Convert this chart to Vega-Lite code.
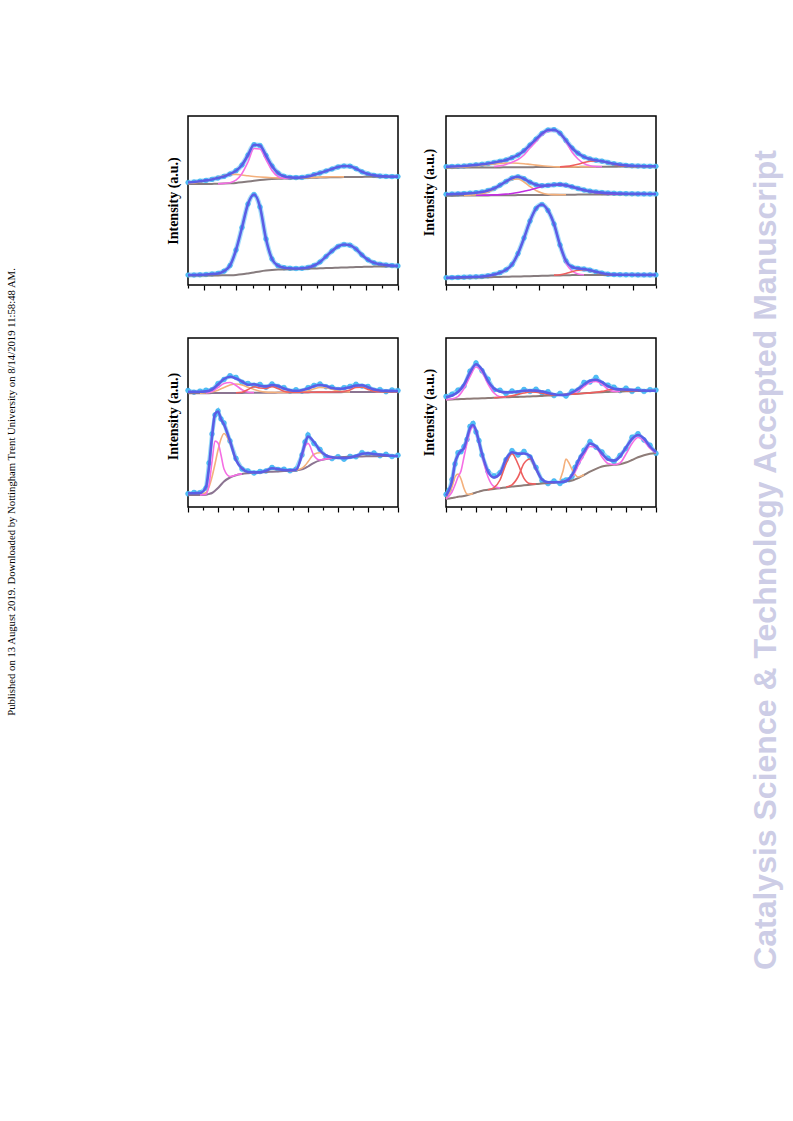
{
"$schema":"https://vega.github.io/schema/vega-lite/v6.json",
"background":"white",
"padding":{"left":5,"top":115,"right":5,"bottom":5},
"spacing":20,
"config":{
 "view":{"stroke":"black","strokeWidth":1.5},
 "axisX":{"labels":false,"domain":false,"grid":false,"tickColor":"black","tickWidth":1.2},
 "axisY":{"ticks":false,"labels":false,"domain":false,"grid":false,"titleFont":"Liberation Serif","titleFontSize":14,"titleFontWeight":"bold","titleColor":"black","titlePadding":10},
 "font":"Liberation Serif"
},
"datasets":{
"p1":[
{"s":"a","x":0,"f":102.5,"b":101,"o":101.5},
{"s":"a","x":6,"f":103,"b":101,"o":102},
{"s":"a","x":12,"f":103.8,"b":101,"o":103},
{"s":"a","x":18,"f":104.6,"b":101,"o":104.3},
{"s":"a","x":24,"f":105.6,"b":101.1,"o":105.8},
{"s":"a","x":30,"f":107,"b":101.2,"o":107.5,"m":101.3},
{"s":"a","x":36,"f":108.6,"b":101.4,"o":109.2,"m":101.6},
{"s":"a","x":42,"f":111,"b":101.7,"o":110.5,"m":102.3},
{"s":"a","x":48,"f":114.3,"b":102.1,"o":110.6,"m":104.8},
{"s":"a","x":54,"f":120,"b":102.7,"o":110,"m":111.5},
{"s":"a","x":60,"f":130,"b":103.4,"o":109.2,"m":123},
{"s":"a","x":66,"f":140.3,"b":104.2,"o":108.5,"m":136.5},
{"s":"a","x":72,"f":139.5,"b":104.9,"o":108,"m":136},
{"s":"a","x":78,"f":129.5,"b":105.5,"o":107.6,"m":125.5},
{"s":"a","x":84,"f":119,"b":105.9,"o":107.3,"m":114.5},
{"s":"a","x":90,"f":112,"b":106.2,"o":107.1,"m":108.5},
{"s":"a","x":96,"f":108.7,"b":106.4,"o":107,"m":106.7},
{"s":"a","x":102,"f":107.6,"b":106.6,"o":106.9,"m":106.6},
{"s":"a","x":108,"f":107.4,"b":106.8,"o":106.9},
{"s":"a","x":114,"f":107.6,"b":107,"o":107},
{"s":"a","x":120,"f":108.5,"b":107.1,"o":107.3},
{"s":"a","x":126,"f":110.3,"b":107.3,"o":107.6},
{"s":"a","x":132,"f":112,"b":107.4,"o":107.9},
{"s":"a","x":138,"f":114,"b":107.6,"o":108.1},
{"s":"a","x":144,"f":116,"b":107.7,"o":108.2},
{"s":"a","x":150,"f":118,"b":107.8,"o":108.2},
{"s":"a","x":156,"f":119,"b":107.9,"o":108.1},
{"s":"a","x":162,"f":118.8,"b":108},
{"s":"a","x":168,"f":116.3,"b":108.1},
{"s":"a","x":174,"f":113.2,"b":108.1},
{"s":"a","x":180,"f":111,"b":108.2},
{"s":"a","x":186,"f":109.6,"b":108.2},
{"s":"a","x":192,"f":108.9,"b":108.2},
{"s":"a","x":198,"f":108.6,"b":108.2},
{"s":"a","x":204,"f":108.4,"b":108.2},
{"s":"a","x":210,"f":108.4,"b":108.2},
{"s":"b","x":0,"f":10,"b":9.5},
{"s":"b","x":6,"f":10,"b":9.5},
{"s":"b","x":12,"f":10.2,"b":9.5},
{"s":"b","x":18,"f":10.5,"b":9.5},
{"s":"b","x":24,"f":11,"b":9.6},
{"s":"b","x":30,"f":11.6,"b":9.6},
{"s":"b","x":36,"f":13.8,"b":9.7},
{"s":"b","x":42,"f":19.5,"b":9.8},
{"s":"b","x":48,"f":35,"b":10.1},
{"s":"b","x":54,"f":57.5,"b":10.7},
{"s":"b","x":60,"f":81,"b":11.6},
{"s":"b","x":66,"f":90.5,"b":12.6},
{"s":"b","x":72,"f":78,"b":13.6},
{"s":"b","x":78,"f":46,"b":14.4},
{"s":"b","x":84,"f":26,"b":15},
{"s":"b","x":90,"f":19.3,"b":15.4},
{"s":"b","x":96,"f":17.3,"b":15.6},
{"s":"b","x":102,"f":16.7,"b":15.8},
{"s":"b","x":108,"f":16.5,"b":16},
{"s":"b","x":114,"f":16.7,"b":16.1},
{"s":"b","x":120,"f":17.5,"b":16.3},
{"s":"b","x":126,"f":19.5,"b":16.5},
{"s":"b","x":132,"f":23,"b":16.7},
{"s":"b","x":138,"f":28.5,"b":16.9},
{"s":"b","x":144,"f":34,"b":17.1},
{"s":"b","x":150,"f":38.5,"b":17.3},
{"s":"b","x":156,"f":40.5,"b":17.5},
{"s":"b","x":162,"f":39.8,"b":17.7},
{"s":"b","x":168,"f":36,"b":17.9},
{"s":"b","x":174,"f":30,"b":18.1},
{"s":"b","x":180,"f":25.2,"b":18.3},
{"s":"b","x":186,"f":22.2,"b":18.4},
{"s":"b","x":192,"f":20.7,"b":18.5},
{"s":"b","x":198,"f":19.9,"b":18.6},
{"s":"b","x":204,"f":19.4,"b":18.7},
{"s":"b","x":210,"f":19.1,"b":18.8}
],
"p2":[
{"s":"c","x":0,"f":118.3,"b":117.3,"o":117.5},
{"s":"c","x":6,"f":118.5,"b":117.3,"o":117.6},
{"s":"c","x":12,"f":118.7,"b":117.4,"o":117.8},
{"s":"c","x":18,"f":119,"b":117.4,"o":118.1},
{"s":"c","x":24,"f":119.5,"b":117.4,"o":118.6},
{"s":"c","x":30,"f":120.1,"b":117.5,"o":119.2},
{"s":"c","x":36,"f":120.7,"b":117.5,"o":119.8},
{"s":"c","x":42,"f":121.5,"b":117.6,"o":120.5},
{"s":"c","x":48,"f":122.5,"b":117.6,"o":121.1,"m":118.5},
{"s":"c","x":54,"f":123.7,"b":117.6,"o":121.6,"m":119.3},
{"s":"c","x":60,"f":125,"b":117.7,"o":121.9,"m":120.6},
{"s":"c","x":66,"f":127.3,"b":117.7,"o":122,"m":122.8},
{"s":"c","x":72,"f":130,"b":117.7,"o":121.8,"m":125.5},
{"s":"c","x":78,"f":134.3,"b":117.8,"o":121.3,"m":130},
{"s":"c","x":84,"f":140,"b":117.8,"o":120.6,"m":137},
{"s":"c","x":90,"f":145.8,"b":117.9,"o":119.9,"m":143.5},
{"s":"c","x":96,"f":151.5,"b":117.9,"o":119.2,"m":150},
{"s":"c","x":102,"f":155,"b":117.9,"o":118.7,"m":154},
{"s":"c","x":108,"f":155.3,"b":118,"o":118.3,"m":154.5},
{"s":"c","x":114,"f":151.8,"b":118,"o":118.1,"m":151,"r":118.1},
{"s":"c","x":120,"f":144.5,"b":118,"o":118.1,"m":143,"r":118.6},
{"s":"c","x":126,"f":137,"b":118.1,"o":118.1,"m":133,"r":119.4},
{"s":"c","x":132,"f":131.8,"b":118.1,"o":118.2,"m":126,"r":120.8},
{"s":"c","x":138,"f":128.2,"b":118.2,"o":118.2,"m":121.5,"r":122.5},
{"s":"c","x":144,"f":126,"b":118.2,"o":118.2,"m":119.3,"r":123.7},
{"s":"c","x":150,"f":124.8,"b":118.2,"o":118.3,"m":118.5,"r":124.1},
{"s":"c","x":156,"f":123.8,"b":118.3,"m":118.3,"r":123.6},
{"s":"c","x":162,"f":122.5,"b":118.3,"r":122.2},
{"s":"c","x":168,"f":121.2,"b":118.3,"r":120.6},
{"s":"c","x":174,"f":120.2,"b":118.4,"r":119.4},
{"s":"c","x":180,"f":119.6,"b":118.4,"r":118.8},
{"s":"c","x":186,"f":119.2,"b":118.5,"r":118.6},
{"s":"c","x":192,"f":119,"b":118.5,"r":118.5},
{"s":"c","x":198,"f":118.8,"b":118.5},
{"s":"c","x":204,"f":118.7,"b":118.6},
{"s":"c","x":210,"f":118.7,"b":118.6},
{"s":"d","x":0,"f":90.7,"b":89.3},
{"s":"d","x":6,"f":90.9,"b":89.3},
{"s":"d","x":12,"f":91.1,"b":89.4},
{"s":"d","x":18,"f":91.4,"b":89.4,"o":89.6},
{"s":"d","x":24,"f":91.8,"b":89.5,"o":89.9},
{"s":"d","x":30,"f":92.3,"b":89.5,"o":90.3,"v":89.7},
{"s":"d","x":36,"f":93,"b":89.6,"o":91.2,"v":89.8},
{"s":"d","x":42,"f":94.5,"b":89.6,"o":93,"v":89.9},
{"s":"d","x":48,"f":96.5,"b":89.7,"o":95.8,"v":90.1},
{"s":"d","x":54,"f":99.8,"b":89.7,"o":99.6,"v":90.4},
{"s":"d","x":60,"f":103.5,"b":89.8,"o":103.2,"v":90.9},
{"s":"d","x":66,"f":106.8,"b":89.8,"o":105.6,"v":91.5},
{"s":"d","x":72,"f":108.2,"b":89.9,"o":106,"v":92.5},
{"s":"d","x":78,"f":106.3,"b":89.9,"o":103,"v":93.8},
{"s":"d","x":84,"f":102.8,"b":90,"o":98.5,"v":95},
{"s":"d","x":90,"f":100.2,"b":90,"o":94.5,"v":96.8},
{"s":"d","x":96,"f":99.3,"b":90.1,"o":92,"v":98.3},
{"s":"d","x":102,"f":99.6,"b":90.1,"o":90.8,"v":99.2},
{"s":"d","x":108,"f":100.3,"b":90.2,"o":90.4,"v":99.8},
{"s":"d","x":114,"f":100.6,"b":90.2,"o":90.3,"v":99.9},
{"s":"d","x":120,"f":99.8,"b":90.3,"o":90.3,"v":99.3},
{"s":"d","x":126,"f":98.2,"b":90.3,"v":97.8},
{"s":"d","x":132,"f":96.5,"b":90.4,"v":96},
{"s":"d","x":138,"f":95,"b":90.4,"v":94.5},
{"s":"d","x":144,"f":93.8,"b":90.5,"v":93.2},
{"s":"d","x":150,"f":93,"b":90.5,"v":92.3},
{"s":"d","x":156,"f":92.4,"b":90.6,"v":91.7},
{"s":"d","x":162,"f":92,"b":90.6,"v":91.3},
{"s":"d","x":168,"f":91.7,"b":90.7,"v":91.1},
{"s":"d","x":174,"f":91.5,"b":90.7,"v":91},
{"s":"d","x":180,"f":91.3,"b":90.8,"v":91},
{"s":"d","x":186,"f":91.2,"b":90.8},
{"s":"d","x":192,"f":91.1,"b":90.9},
{"s":"d","x":198,"f":91.1,"b":90.9},
{"s":"d","x":204,"f":91,"b":91},
{"s":"d","x":210,"f":91,"b":91},
{"s":"e","x":0,"f":7.3,"b":6.7},
{"s":"e","x":6,"f":7.4,"b":6.9},
{"s":"e","x":12,"f":7.6,"b":7},
{"s":"e","x":18,"f":7.8,"b":7.2},
{"s":"e","x":24,"f":8,"b":7.3},
{"s":"e","x":30,"f":8.2,"b":7.5},
{"s":"e","x":36,"f":8.5,"b":7.6},
{"s":"e","x":42,"f":9.2,"b":7.8,"m":8.9},
{"s":"e","x":48,"f":10.5,"b":7.9,"m":10.1},
{"s":"e","x":54,"f":12.3,"b":8.1,"m":12},
{"s":"e","x":60,"f":15.2,"b":8.2,"m":15},
{"s":"e","x":66,"f":20.5,"b":8.4,"m":20.3},
{"s":"e","x":72,"f":31.5,"b":8.5,"m":31.3},
{"s":"e","x":78,"f":47,"b":8.7,"m":46.8},
{"s":"e","x":84,"f":64,"b":8.8,"m":63.8},
{"s":"e","x":90,"f":76.5,"b":9,"m":76.3},
{"s":"e","x":96,"f":80.5,"b":9.2,"m":80.2},
{"s":"e","x":102,"f":74.5,"b":9.3,"m":74.2},
{"s":"e","x":108,"f":61,"b":9.5,"m":60.5,"r":9.9},
{"s":"e","x":114,"f":40,"b":9.6,"m":39,"r":10.3},
{"s":"e","x":120,"f":24,"b":9.8,"m":22,"r":11.5},
{"s":"e","x":126,"f":18,"b":9.9,"m":14,"r":13.3},
{"s":"e","x":132,"f":16.6,"b":10,"m":11,"r":14.8},
{"s":"e","x":138,"f":16,"b":10,"m":10.2,"r":15.2},
{"s":"e","x":144,"f":14.8,"b":10,"r":14.3},
{"s":"e","x":150,"f":13.2,"b":10,"r":12.8},
{"s":"e","x":156,"f":11.8,"b":10,"r":11.5},
{"s":"e","x":162,"f":10.8,"b":10,"r":10.6},
{"s":"e","x":168,"f":10.4,"b":10,"r":10.2},
{"s":"e","x":174,"f":10.3,"b":10},
{"s":"e","x":180,"f":10.2,"b":10},
{"s":"e","x":186,"f":10.2,"b":10},
{"s":"e","x":192,"f":10.1,"b":10},
{"s":"e","x":198,"f":10.1,"b":10},
{"s":"e","x":204,"f":10.1,"b":10},
{"s":"e","x":210,"f":10.1,"b":10}
],
"p3":[
{"s":"f","x":0,"f":115.3,"e":116.5,"b":113.7},
{"s":"f","x":6,"f":115.3,"e":114.8,"b":113.7},
{"s":"f","x":12,"f":115.3,"e":115.9,"b":113.8,"o":113.9},
{"s":"f","x":18,"f":115.6,"e":116.8,"b":113.8,"m":114.1,"o":114.2},
{"s":"f","x":24,"f":117.5,"e":117.2,"b":113.9,"m":115.5,"o":115},
{"s":"f","x":30,"f":122.5,"e":123.4,"b":113.9,"m":119.5,"o":116.8},
{"s":"f","x":36,"f":128,"e":127.5,"b":114,"m":123.5,"o":119.5},
{"s":"f","x":42,"f":130.3,"e":131.2,"b":114,"m":124.5,"o":122},
{"s":"f","x":48,"f":128.5,"e":129.6,"b":114.1,"m":121.5,"o":123,"r":114.2},
{"s":"f","x":54,"f":125.5,"e":124.8,"b":114.1,"m":117.3,"o":122,"r":114.8},
{"s":"f","x":60,"f":122.3,"e":123.5,"b":114.2,"m":114.8,"o":119.8,"r":117.5},
{"s":"f","x":66,"f":122.7,"e":121.8,"b":114.2,"m":114.4,"o":117.5,"r":120.3},
{"s":"f","x":72,"f":121.2,"e":122.6,"b":114.2,"o":115.8,"r":119},
{"s":"f","x":78,"f":120.6,"e":119.7,"b":114.3,"o":114.9,"r":118.6},
{"s":"f","x":84,"f":122,"e":123,"b":114.3,"o":114.6,"r":120.4},
{"s":"f","x":90,"f":121,"e":120.4,"b":114.4,"o":114.5,"r":118.5},
{"s":"f","x":96,"f":118.5,"e":119.4,"b":114.4,"o":114.5,"r":115.8},
{"s":"f","x":102,"f":116.8,"e":115.8,"b":114.5,"o":114.6,"r":114.8},
{"s":"f","x":108,"f":116.2,"e":117.2,"b":114.5,"o":114.7,"r":114.7},
{"s":"f","x":114,"f":116.8,"e":115.9,"b":114.6,"o":115,"r":114.7},
{"s":"f","x":120,"f":118.5,"e":119.3,"b":114.6,"o":116,"r":114.8},
{"s":"f","x":126,"f":120.8,"e":121.6,"b":114.7,"o":118.2,"r":114.8},
{"s":"f","x":132,"f":122,"e":123,"b":114.7,"o":119.6,"r":114.9},
{"s":"f","x":138,"f":121,"e":120.3,"b":114.8,"o":119.4,"r":114.9},
{"s":"f","x":144,"f":119,"e":119.8,"b":114.8,"o":117.8,"r":115},
{"s":"f","x":150,"f":118.3,"e":117.4,"b":114.8,"o":116,"r":115.2},
{"s":"f","x":156,"f":118.5,"e":119.3,"b":114.9,"o":115.2,"r":115.6},
{"s":"f","x":162,"f":119.8,"e":120.6,"b":114.9,"o":115.1,"r":117},
{"s":"f","x":168,"f":121.5,"e":122.7,"b":115,"r":119.6},
{"s":"f","x":174,"f":121.8,"e":120.9,"b":115,"r":119.8},
{"s":"f","x":180,"f":119.8,"e":120.5,"b":115.1,"r":117.6},
{"s":"f","x":186,"f":117.5,"e":116.8,"b":115.1,"r":115.8},
{"s":"f","x":192,"f":116.5,"e":117.4,"b":115.2,"r":115.3},
{"s":"f","x":198,"f":116.2,"e":115.3,"b":115.2,"r":115.3},
{"s":"f","x":204,"f":116.1,"e":117,"b":115.3,"r":115.4},
{"s":"f","x":210,"f":116,"e":116.4,"b":115.3,"r":115.4},
{"s":"g","x":0,"f":13.7,"e":13.2,"b":12},
{"s":"g","x":6,"f":13.8,"e":14.5,"b":12},
{"s":"g","x":12,"f":14,"e":14.3,"b":12,"m":12.1,"o":12.2},
{"s":"g","x":18,"f":20,"e":19,"b":12.3,"m":12.8,"o":14.5},
{"s":"g","x":21,"f":40,"e":44,"b":13,"m":22,"o":20},
{"s":"g","x":24,"f":70,"e":73,"b":14,"m":45,"o":30},
{"s":"g","x":27,"f":93,"e":92,"b":16.3,"m":66,"o":43},
{"s":"g","x":30,"f":95.5,"e":96,"b":19,"m":64,"o":57},
{"s":"g","x":33,"f":88,"e":88,"b":22.3,"m":52,"o":68},
{"s":"g","x":36,"f":82.5,"e":84,"b":25.5,"m":38,"o":73.5},
{"s":"g","x":42,"f":66,"e":66,"b":29.5,"m":30.5,"o":64},
{"s":"g","x":48,"f":47,"e":48.5,"b":31.8,"m":32,"o":48},
{"s":"g","x":54,"f":38.5,"e":38,"b":33,"m":33.1,"o":38.5},
{"s":"g","x":60,"f":35,"e":36,"b":33.7,"o":34.8},
{"s":"g","x":66,"f":34.6,"e":34,"b":34.2,"o":34.4},
{"s":"g","x":72,"f":34.8,"e":35.5,"b":34.6},
{"s":"g","x":78,"f":36.3,"e":36,"b":35},
{"s":"g","x":84,"f":38.7,"e":39.5,"b":35.3},
{"s":"g","x":90,"f":38,"e":37.5,"b":35.6},
{"s":"g","x":96,"f":37,"e":37.8,"b":35.9},
{"s":"g","x":102,"f":36.8,"e":36.2,"b":36.2,"m":36.3},
{"s":"g","x":108,"f":37.2,"e":37.8,"b":36.6,"m":37.8,"o":36.8},
{"s":"g","x":114,"f":53,"e":52,"b":37.6,"m":50.4,"o":38.8},
{"s":"g","x":117,"f":63.5,"e":65,"b":38.8,"m":60.5,"o":41.4},
{"s":"g","x":120,"f":70.5,"e":72,"b":40.5,"m":63.6,"o":45.2},
{"s":"g","x":126,"f":65,"e":63.5,"b":44.2,"m":51.3,"o":52.8},
{"s":"g","x":132,"f":56.5,"e":57.5,"b":46.6,"m":47,"o":54.2},
{"s":"g","x":138,"f":51.5,"e":50.2,"b":48,"m":48.1,"o":51.3},
{"s":"g","x":144,"f":49.8,"e":48.4,"b":48.9,"m":48.9,"o":49.6},
{"s":"g","x":150,"f":49.2,"e":50.3,"b":49.5,"o":49.6},
{"s":"g","x":156,"f":48.9,"e":47.8,"b":49.9},
{"s":"g","x":162,"f":49.5,"e":50.6,"b":50.2},
{"s":"g","x":168,"f":51,"e":50.2,"b":50.4},
{"s":"g","x":174,"f":53.3,"e":54.4,"b":50.6},
{"s":"g","x":180,"f":53.8,"e":52.8,"b":50.7},
{"s":"g","x":186,"f":53,"e":54,"b":50.8},
{"s":"g","x":192,"f":52.2,"e":51.3,"b":50.9},
{"s":"g","x":198,"f":51.8,"e":52.7,"b":51},
{"s":"g","x":204,"f":51.3,"e":50.5,"b":51},
{"s":"g","x":210,"f":51,"e":51.8,"b":51}
],
"p4":[
{"s":"h","x":0,"f":109.7,"e":110.5,"b":107.3,"m":107.4},
{"s":"h","x":6,"f":111.5,"e":112.8,"b":107.5,"m":108},
{"s":"h","x":12,"f":115,"e":116.9,"b":107.8,"m":110.5},
{"s":"h","x":18,"f":122.5,"e":120.9,"b":108,"m":118.5},
{"s":"h","x":24,"f":134.5,"e":135.8,"b":108.3,"m":130.5},
{"s":"h","x":30,"f":142.8,"e":144,"b":108.5,"m":140},
{"s":"h","x":36,"f":137.5,"e":136.2,"b":108.7,"m":135},
{"s":"h","x":42,"f":126,"e":127.8,"b":109,"m":123},
{"s":"h","x":48,"f":118.5,"e":117.2,"b":109.2,"m":114,"r":109.3},
{"s":"h","x":54,"f":115.5,"e":116.8,"b":109.5,"m":110.3,"r":109.7},
{"s":"h","x":60,"f":114.6,"e":113.5,"b":109.7,"m":109.9,"r":110.3},
{"s":"h","x":66,"f":114.8,"e":116,"b":109.9,"r":111.3},
{"s":"h","x":72,"f":115.5,"e":114.3,"b":110.1,"r":112.6},
{"s":"h","x":78,"f":116.2,"e":117.5,"b":110.3,"r":114},
{"s":"h","x":84,"f":116.5,"e":115.6,"b":110.6,"r":115},
{"s":"h","x":90,"f":116.4,"e":117.8,"b":110.8,"r":114.8},
{"s":"h","x":96,"f":115.5,"e":114.2,"b":111.1,"r":113.8},
{"s":"h","x":102,"f":114,"e":115.3,"b":111.4,"r":112.5},
{"s":"h","x":108,"f":112.8,"e":111.4,"b":111.8,"r":112},
{"s":"h","x":114,"f":112,"e":113.6,"b":112.1,"r":112.1},
{"s":"h","x":120,"f":112.3,"e":110.9,"b":112.5,"m":112.6,"r":112.5},
{"s":"h","x":126,"f":114.5,"e":115.8,"b":112.9,"m":113.6,"r":112.9},
{"s":"h","x":132,"f":118,"e":117,"b":113.3,"m":116,"r":113.3},
{"s":"h","x":138,"f":122.5,"e":124.6,"b":113.7,"m":120.3,"r":113.7},
{"s":"h","x":144,"f":126.3,"e":125,"b":114.1,"m":124.5,"r":114.1},
{"s":"h","x":150,"f":127.2,"e":129.6,"b":114.5,"m":125.6,"r":114.7},
{"s":"h","x":156,"f":124.8,"e":123.6,"b":114.8,"m":122.7,"r":115.6},
{"s":"h","x":162,"f":120.8,"e":121.9,"b":115,"m":117.8,"r":117},
{"s":"h","x":168,"f":118.3,"e":119.8,"b":115.3,"m":115.6,"r":118},
{"s":"h","x":174,"f":117.6,"e":116.4,"b":115.5,"m":115.5,"r":117.5},
{"s":"h","x":180,"f":117.4,"e":118.9,"b":115.7,"r":116.3},
{"s":"h","x":186,"f":117.1,"e":115.6,"b":115.8,"r":116},
{"s":"h","x":192,"f":116.7,"e":117.8,"b":116,"r":116},
{"s":"h","x":198,"f":116.4,"e":115.6,"b":116.1},
{"s":"h","x":204,"f":116.3,"e":117.3,"b":116.2},
{"s":"h","x":210,"f":116.3,"e":116.9,"b":116.3},
{"s":"i","x":0,"f":11.3,"e":12.5,"b":8,"o":8.5,"m":8.2},
{"s":"i","x":3,"f":17,"e":16.8,"b":8.5,"o":13,"m":11},
{"s":"i","x":6,"f":26,"e":27.4,"b":9.1,"o":20,"m":15},
{"s":"i","x":9,"f":44,"e":43,"b":9.6,"o":30,"m":22},
{"s":"i","x":12,"f":52,"e":54.3,"b":10.2,"o":33,"m":30},
{"s":"i","x":15,"f":56,"e":55.2,"b":10.6,"o":28,"m":36},
{"s":"i","x":18,"f":59,"e":60.4,"b":11.1,"o":18.5,"m":50},
{"s":"i","x":21,"f":69,"e":67.5,"b":11.8,"o":13,"m":64},
{"s":"i","x":24,"f":79,"e":80.6,"b":12.6,"o":12.7,"m":75.5},
{"s":"i","x":27,"f":82,"e":83.5,"b":13.5,"o":13.5,"m":80},
{"s":"i","x":30,"f":76.5,"e":75,"b":14.5,"m":75.5},
{"s":"i","x":33,"f":65,"e":66.3,"b":15.4,"m":64},
{"s":"i","x":36,"f":53.5,"e":52,"b":16.3,"m":51.5},
{"s":"i","x":42,"f":35.5,"e":35.5,"b":17.2,"m":30,"r":17.3},
{"s":"i","x":48,"f":29.5,"e":31,"b":18,"m":20.5,"r":19.4},
{"s":"i","x":54,"f":33.5,"e":34.2,"b":18.8,"m":19,"r":27},
{"s":"i","x":60,"f":48,"e":47.2,"b":19.6,"r":43.2,"r2":20},
{"s":"i","x":66,"f":54.7,"e":56.3,"b":20.4,"r":53.4,"r2":22.2},
{"s":"i","x":72,"f":53.2,"e":52,"b":21,"r":43,"r2":30},
{"s":"i","x":78,"f":53.5,"e":55.6,"b":21.7,"r":28.7,"r2":43.6},
{"s":"i","x":84,"f":51,"e":50,"b":22.3,"r":23.4,"r2":48},
{"s":"i","x":90,"f":38.5,"e":39.5,"b":22.9,"r":23,"r2":37.4},
{"s":"i","x":96,"f":27.5,"e":26.3,"b":23.5,"r2":27.5},
{"s":"i","x":102,"f":24.8,"e":23.4,"b":24,"r2":24.4},
{"s":"i","x":108,"f":24.7,"e":26,"b":24.6,"r2":24.6},
{"s":"i","x":114,"f":24.8,"e":23.5,"b":25.2,"o":27},
{"s":"i","x":117,"f":25.2,"e":25.8,"b":25.5,"o":36,"m":25.6},
{"s":"i","x":120,"f":26,"e":27,"b":25.8,"o":48,"m":26.5},
{"s":"i","x":123,"f":28,"e":27.3,"b":26.1,"o":44,"m":28},
{"s":"i","x":126,"f":31.8,"e":30.5,"b":26.5,"o":37.5,"m":30.5},
{"s":"i","x":129,"f":38,"e":39.6,"b":27.6,"o":32.5,"m":35},
{"s":"i","x":132,"f":45.5,"e":44.6,"b":28.8,"o":30,"m":41},
{"s":"i","x":135,"f":51,"e":50,"b":30.4,"o":30.8,"m":47},
{"s":"i","x":138,"f":55,"e":56.7,"b":32,"o":32.2,"m":52},
{"s":"i","x":144,"f":63.5,"e":65.4,"b":35.3,"m":60.5},
{"s":"i","x":150,"f":60.5,"e":59.8,"b":38.2,"m":59.5},
{"s":"i","x":156,"f":53.5,"e":55,"b":40.5,"m":50},
{"s":"i","x":162,"f":47.5,"e":48.8,"b":41.6,"m":43.5},
{"s":"i","x":168,"f":46.4,"e":45.2,"b":42.2,"m":42.4},
{"s":"i","x":174,"f":50.5,"e":51.6,"b":42.8,"m":44},
{"s":"i","x":180,"f":59.5,"e":58.4,"b":44.5,"m":53},
{"s":"i","x":186,"f":68,"e":69.8,"b":47,"m":63.5},
{"s":"i","x":192,"f":72,"e":73.2,"b":49.7,"m":69.5},
{"s":"i","x":198,"f":68.5,"e":67,"b":51.8,"m":66},
{"s":"i","x":204,"f":60.5,"e":61.8,"b":53.2,"m":58.5},
{"s":"i","x":210,"f":55,"e":53.6,"b":54,"m":54.3}
]
},
"hconcat":[
{
 "width":140,"height":752,
 "view":{"stroke":null},
 "data":{"values":[{"t":"Published on 13 August 2019. Downloaded by Nottingham Trent University on 8/14/2019 11:58:48 AM."}]},
 "mark":{"type":"text","angle":270,"font":"Liberation Serif","fontSize":10.7,"color":"black","baseline":"middle","align":"center"},
 "encoding":{"text":{"field":"t"},"x":{"datum":0.05,"type":"quantitative","scale":{"domain":[0,1]},"axis":null}}
},
{
 "vconcat":[
  {"hconcat":[
   {
    "width":210,"height":169,
    "data":{"name":"p1"},
    "encoding":{"x":{"field":"x","type":"quantitative","scale":{"domain":[0,210],"nice":false,"zero":false},"title":null,
      "axis":{"values":[0,16.154,32.308,48.462,64.615,80.769,96.923,113.077,129.231,145.385,161.538,177.692,193.846,210],
       "tickSize":{"condition":{"test":"round(datum.value/16.1538) % 2 == 1","value":5},"value":3}}}},
    "layer":[
     {"mark":{"type":"line","interpolate":"monotone","color":"#6ACAF6","strokeWidth":5,"opacity":0.6},
      "encoding":{"y":{"field":"f","type":"quantitative","scale":{"domain":[0,169],"nice":false,"zero":false},"title":"Intensity (a.u.)","axis":{"titlePadding":8}},"detail":{"field":"s"}}},
     {"mark":{"type":"circle","size":22,"color":"#4FC0F5","opacity":1,"stroke":"#38A8EE","strokeWidth":0.5},
      "encoding":{"y":{"field":"f","type":"quantitative","scale":{"domain":[0,169],"nice":false,"zero":false},"title":"Intensity (a.u.)"}}},
     {"mark":{"type":"line","interpolate":"monotone","color":"#877C7E","strokeWidth":2},
      "encoding":{"y":{"field":"b","type":"quantitative","scale":{"domain":[0,169],"nice":false,"zero":false},"title":"Intensity (a.u.)"},"detail":{"field":"s"}}},
     {"mark":{"type":"line","interpolate":"monotone","color":"#F4B07C","strokeWidth":1.6},
      "encoding":{"y":{"field":"o","type":"quantitative","scale":{"domain":[0,169],"nice":false,"zero":false},"title":"Intensity (a.u.)"},"detail":{"field":"s"}}},
     {"mark":{"type":"line","interpolate":"monotone","color":"#F56EE4","strokeWidth":1.6},
      "encoding":{"y":{"field":"m","type":"quantitative","scale":{"domain":[0,169],"nice":false,"zero":false},"title":"Intensity (a.u.)"},"detail":{"field":"s"}}},
     {"mark":{"type":"line","interpolate":"monotone","color":"#5A5EE6","strokeWidth":2.6},
      "encoding":{"y":{"field":"f","type":"quantitative","scale":{"domain":[0,169],"nice":false,"zero":false},"title":"Intensity (a.u.)"},"detail":{"field":"s"}}}
    ]
   },
   {
    "width":210,"height":169,
    "data":{"name":"p2"},
    "encoding":{"x":{"field":"x","type":"quantitative","scale":{"domain":[0,210],"nice":false,"zero":false},"title":null,
      "axis":{"values":[0,23.333,46.667,70,93.333,116.667,140,163.333,186.667,210],
       "tickSize":{"condition":{"test":"round(datum.value/23.3333) % 2 == 0","value":5},"value":3}}}},
    "layer":[
     {"mark":{"type":"line","interpolate":"monotone","color":"#6ACAF6","strokeWidth":5,"opacity":0.6},
      "encoding":{"y":{"field":"f","type":"quantitative","scale":{"domain":[0,169],"nice":false,"zero":false},"title":"Intensity (a.u.)","axis":{"titlePadding":10,"titleY":76}},"detail":{"field":"s"}}},
     {"mark":{"type":"circle","size":22,"color":"#4FC0F5","opacity":1,"stroke":"#38A8EE","strokeWidth":0.5},
      "encoding":{"y":{"field":"f","type":"quantitative","scale":{"domain":[0,169],"nice":false,"zero":false},"title":"Intensity (a.u.)"}}},
     {"mark":{"type":"line","interpolate":"monotone","color":"#877C7E","strokeWidth":2},
      "encoding":{"y":{"field":"b","type":"quantitative","scale":{"domain":[0,169],"nice":false,"zero":false},"title":"Intensity (a.u.)"},"detail":{"field":"s"}}},
     {"mark":{"type":"line","interpolate":"monotone","color":"#F4B07C","strokeWidth":1.6},
      "encoding":{"y":{"field":"o","type":"quantitative","scale":{"domain":[0,169],"nice":false,"zero":false},"title":"Intensity (a.u.)"},"detail":{"field":"s"}}},
     {"mark":{"type":"line","interpolate":"monotone","color":"#C22EE0","strokeWidth":1.6},
      "encoding":{"y":{"field":"v","type":"quantitative","scale":{"domain":[0,169],"nice":false,"zero":false},"title":"Intensity (a.u.)"},"detail":{"field":"s"}}},
     {"mark":{"type":"line","interpolate":"monotone","color":"#F56EE4","strokeWidth":1.6},
      "encoding":{"y":{"field":"m","type":"quantitative","scale":{"domain":[0,169],"nice":false,"zero":false},"title":"Intensity (a.u.)"},"detail":{"field":"s"}}},
     {"mark":{"type":"line","interpolate":"monotone","color":"#EE5F5F","strokeWidth":1.6},
      "encoding":{"y":{"field":"r","type":"quantitative","scale":{"domain":[0,169],"nice":false,"zero":false},"title":"Intensity (a.u.)"},"detail":{"field":"s"}}},
     {"mark":{"type":"line","interpolate":"monotone","color":"#5A5EE6","strokeWidth":2.6},
      "encoding":{"y":{"field":"f","type":"quantitative","scale":{"domain":[0,169],"nice":false,"zero":false},"title":"Intensity (a.u.)"},"detail":{"field":"s"}}}
    ]
   }
  ],"spacing":12},
  {"hconcat":[
   {
    "width":210,"height":169,
    "data":{"name":"p3"},
    "encoding":{"x":{"field":"x","type":"quantitative","scale":{"domain":[0,210],"nice":false,"zero":false},"title":null,
      "axis":{"values":[0,15,30,45,60,75,90,105,120,135,150,165,180,195,210],
       "tickSize":{"condition":{"test":"round(datum.value/15) % 2 == 0","value":5},"value":3}}}},
    "layer":[
     {"mark":{"type":"line","color":"#6ACAF6","strokeWidth":4,"opacity":0.7},
      "encoding":{"y":{"field":"e","type":"quantitative","scale":{"domain":[0,169],"nice":false,"zero":false},"title":"Intensity (a.u.)","axis":{"titlePadding":8,"titleY":78}},"detail":{"field":"s"}}},
     {"mark":{"type":"circle","size":24,"color":"#4FC0F5","opacity":1,"stroke":"#38A8EE","strokeWidth":0.5},
      "encoding":{"y":{"field":"e","type":"quantitative","scale":{"domain":[0,169],"nice":false,"zero":false},"title":"Intensity (a.u.)"}}},
     {"mark":{"type":"line","interpolate":"monotone","color":"#8B7491","strokeWidth":2},
      "encoding":{"y":{"field":"b","type":"quantitative","scale":{"domain":[0,169],"nice":false,"zero":false},"title":"Intensity (a.u.)"},"detail":{"field":"s"}}},
     {"mark":{"type":"line","interpolate":"monotone","color":"#F4B07C","strokeWidth":1.6},
      "encoding":{"y":{"field":"o","type":"quantitative","scale":{"domain":[0,169],"nice":false,"zero":false},"title":"Intensity (a.u.)"},"detail":{"field":"s"}}},
     {"mark":{"type":"line","interpolate":"monotone","color":"#F56EE4","strokeWidth":1.6},
      "encoding":{"y":{"field":"m","type":"quantitative","scale":{"domain":[0,169],"nice":false,"zero":false},"title":"Intensity (a.u.)"},"detail":{"field":"s"}}},
     {"mark":{"type":"line","interpolate":"monotone","color":"#EE5F5F","strokeWidth":1.6},
      "encoding":{"y":{"field":"r","type":"quantitative","scale":{"domain":[0,169],"nice":false,"zero":false},"title":"Intensity (a.u.)"},"detail":{"field":"s"}}},
     {"mark":{"type":"line","interpolate":"monotone","color":"#5A5EE6","strokeWidth":2.6},
      "encoding":{"y":{"field":"f","type":"quantitative","scale":{"domain":[0,169],"nice":false,"zero":false},"title":"Intensity (a.u.)"},"detail":{"field":"s"}}}
    ]
   },
   {
    "width":210,"height":169,
    "data":{"name":"p4"},
    "encoding":{"x":{"field":"x","type":"quantitative","scale":{"domain":[0,210],"nice":false,"zero":false},"title":null,
      "axis":{"values":[0,15,30,45,60,75,90,105,120,135,150,165,180,195,210],
       "tickSize":{"condition":{"test":"round(datum.value/15) % 2 == 0","value":5},"value":3}}}},
    "layer":[
     {"mark":{"type":"line","color":"#6ACAF6","strokeWidth":4,"opacity":0.7},
      "encoding":{"y":{"field":"e","type":"quantitative","scale":{"domain":[0,169],"nice":false,"zero":false},"title":"Intensity (a.u.)","axis":{"titlePadding":10,"titleY":74}},"detail":{"field":"s"}}},
     {"mark":{"type":"circle","size":24,"color":"#4FC0F5","opacity":1,"stroke":"#38A8EE","strokeWidth":0.5},
      "encoding":{"y":{"field":"e","type":"quantitative","scale":{"domain":[0,169],"nice":false,"zero":false},"title":"Intensity (a.u.)"}}},
     {"mark":{"type":"line","interpolate":"monotone","color":"#8E7C78","strokeWidth":2},
      "encoding":{"y":{"field":"b","type":"quantitative","scale":{"domain":[0,169],"nice":false,"zero":false},"title":"Intensity (a.u.)"},"detail":{"field":"s"}}},
     {"mark":{"type":"line","interpolate":"monotone","color":"#F4B07C","strokeWidth":1.6},
      "encoding":{"y":{"field":"o","type":"quantitative","scale":{"domain":[0,169],"nice":false,"zero":false},"title":"Intensity (a.u.)"},"detail":{"field":"s"}}},
     {"mark":{"type":"line","interpolate":"monotone","color":"#F56EE4","strokeWidth":1.6},
      "encoding":{"y":{"field":"m","type":"quantitative","scale":{"domain":[0,169],"nice":false,"zero":false},"title":"Intensity (a.u.)"},"detail":{"field":"s"}}},
     {"mark":{"type":"line","interpolate":"monotone","color":"#EE5F5F","strokeWidth":1.6},
      "encoding":{"y":{"field":"r","type":"quantitative","scale":{"domain":[0,169],"nice":false,"zero":false},"title":"Intensity (a.u.)"},"detail":{"field":"s"}}},
     {"mark":{"type":"line","interpolate":"monotone","color":"#EE5F5F","strokeWidth":1.6},
      "encoding":{"y":{"field":"r2","type":"quantitative","scale":{"domain":[0,169],"nice":false,"zero":false},"title":"Intensity (a.u.)"},"detail":{"field":"s"}}},
     {"mark":{"type":"line","interpolate":"monotone","color":"#5A5EE6","strokeWidth":2.6},
      "encoding":{"y":{"field":"f","type":"quantitative","scale":{"domain":[0,169],"nice":false,"zero":false},"title":"Intensity (a.u.)"},"detail":{"field":"s"}}}
    ]
   }
  ],"spacing":14}
 ],
 "spacing":45
},
{
 "width":100,"height":888,
 "view":{"stroke":null},
 "data":{"values":[{"t":"Catalysis Science & Technology Accepted Manuscript"}]},
 "mark":{"type":"text","angle":270,"font":"Liberation Sans","fontWeight":"bold","fontSize":32,"color":"#CDCDE6","baseline":"middle","align":"center"},
 "encoding":{"text":{"field":"t"},"x":{"datum":0.79,"type":"quantitative","scale":{"domain":[0,1]},"axis":null}}
}
]
}
